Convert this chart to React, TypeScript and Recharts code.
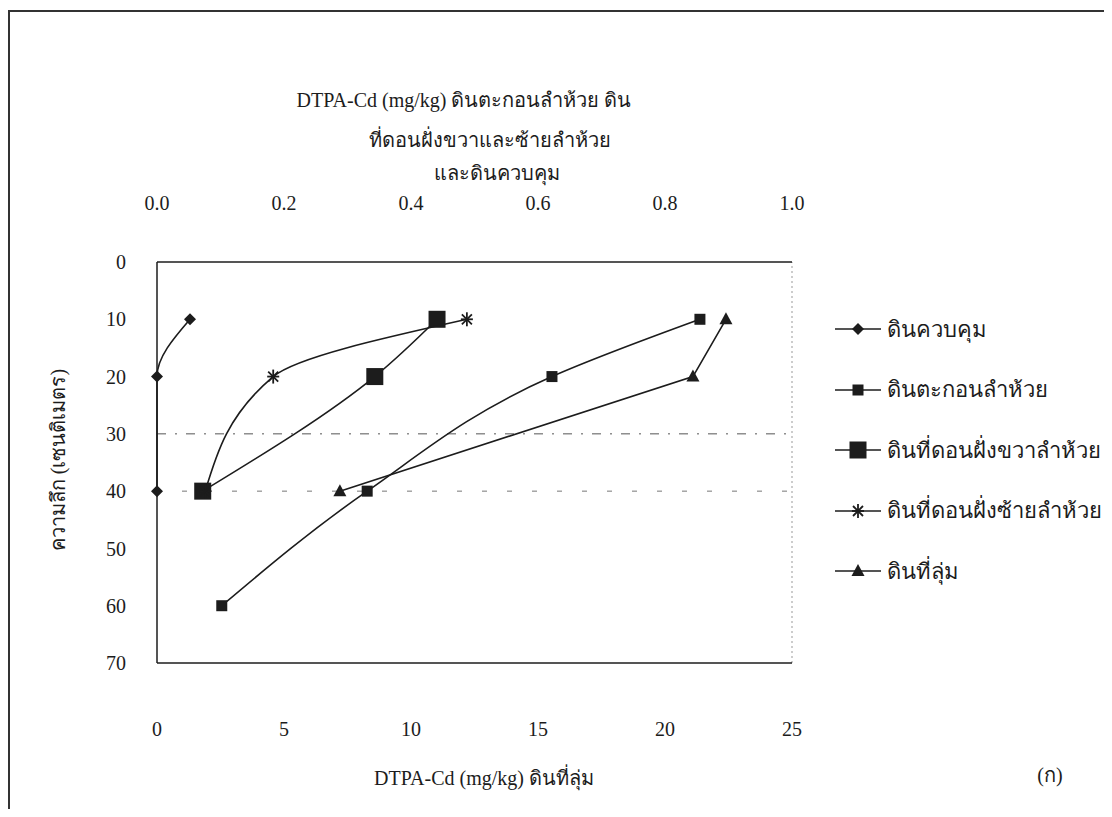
import React from "react";
import { ScatterChart, Scatter, XAxis, YAxis, ReferenceLine } from "recharts";

// depth (cm) on the y axis, reversed
const depthTicks = [0, 10, 20, 30, 40, 50, 60, 70];
const topTicks = [0, 0.2, 0.4, 0.6, 0.8, 1.0];
const bottomTicks = [0, 5, 10, 15, 20, 25];

// top axis (0–1.0 mg/kg)
const controlDepth = [10, 20, 40];
const controlCd = [0.052, 0, 0];
const sedimentDepth = [10, 20, 40, 60];
const sedimentCd = [0.855, 0.622, 0.331, 0.102];
const rightBankDepth = [10, 20, 40];
const rightBankCd = [0.441, 0.343, 0.072];
const leftBankDepth = [10, 20, 40];
const leftBankCd = [0.488, 0.183, 0.076];
// bottom axis (0–25 mg/kg)
const lowlandDepth = [10, 20, 40];
const lowlandCd = [22.4, 21.1, 7.2];

const toPoints = (depths: number[], values: number[]) =>
  depths.map((depth, i) => ({ v: values[i], depth }));

type Kind = "diamond" | "smallSquare" | "bigSquare" | "asterisk" | "triangle";

const INK = "#1c1c1c";
const FONT = "'Liberation Serif', 'Times New Roman', Norasi, Garuda, serif";

const series: {
  name: string;
  kind: Kind;
  axis: string;
  curve: "monotoneY" | "linear";
  data: { v: number; depth: number }[];
}[] = [
  { name: "ดินควบคุม", kind: "diamond", axis: "top", curve: "monotoneY", data: toPoints(controlDepth, controlCd) },
  { name: "ดินตะกอนลำห้วย", kind: "smallSquare", axis: "top", curve: "monotoneY", data: toPoints(sedimentDepth, sedimentCd) },
  { name: "ดินที่ดอนฝั่งขวาลำห้วย", kind: "bigSquare", axis: "top", curve: "monotoneY", data: toPoints(rightBankDepth, rightBankCd) },
  { name: "ดินที่ดอนฝั่งซ้ายลำห้วย", kind: "asterisk", axis: "top", curve: "monotoneY", data: toPoints(leftBankDepth, leftBankCd) },
  { name: "ดินที่ลุ่ม", kind: "triangle", axis: "bottom", curve: "linear", data: toPoints(lowlandDepth, lowlandCd) },
];

function Marker({ kind, cx, cy }: { kind: Kind; cx: number; cy: number }) {
  switch (kind) {
    case "diamond":
      return <polygon points={`${cx},${cy - 6} ${cx + 6},${cy} ${cx},${cy + 6} ${cx - 6},${cy}`} fill={INK} />;
    case "smallSquare":
      return <rect x={cx - 5.5} y={cy - 5.5} width={11} height={11} fill={INK} />;
    case "bigSquare":
      return <rect x={cx - 8.5} y={cy - 8.5} width={17} height={17} fill={INK} />;
    case "triangle":
      return <polygon points={`${cx},${cy - 7} ${cx + 6.5},${cy + 5} ${cx - 6.5},${cy + 5}`} fill={INK} />;
    case "asterisk":
      return (
        <g stroke={INK} strokeWidth={1.8}>
          <line x1={cx - 6} y1={cy} x2={cx + 6} y2={cy} />
          <line x1={cx} y1={cy - 7} x2={cx} y2={cy + 7} />
          <line x1={cx - 5} y1={cy - 5} x2={cx + 5} y2={cy + 5} />
          <line x1={cx - 5} y1={cy + 5} x2={cx + 5} y2={cy - 5} />
        </g>
      );
  }
  return null;
}

const abs = (x: number, y: number, extra: React.CSSProperties = {}): React.CSSProperties => ({
  position: "absolute",
  left: x,
  top: y,
  transform: "translate(-50%, -50%)",
  whiteSpace: "nowrap",
  fontFamily: FONT,
  color: INK,
  ...extra,
});

const tickStyle = { fill: INK, fontSize: 20, fontFamily: FONT };

export default function App() {
  const legendTop = 321;
  const legendStep = 60.5;
  return (
    <div style={{ position: "relative", width: 1104, height: 801, background: "#fff" }}>
      {/* outer frame of the scanned figure */}
      <div style={{ position: "absolute", left: 0, top: 2, width: 1100, height: 2, background: "#333" }} />
      <div style={{ position: "absolute", left: 0, top: 2, width: 2, height: 799, background: "#333" }} />
      <div style={{ position: "absolute", left: 1099, top: 2, width: 1, height: 30, background: "#999" }} />

      <ScatterChart
        width={1104}
        height={801}
        margin={{ top: 0, right: 320, bottom: 0, left: 0 }}
        style={{ position: "absolute", left: 0, top: 0 }}
      >
        <XAxis
          xAxisId="top"
          orientation="top"
          type="number"
          dataKey="v"
          domain={[0, 1]}
          ticks={topTicks}
          tickFormatter={(t: number) => t.toFixed(1)}
          height={254}
          tickLine={false}
          tickMargin={46}
          axisLine={{ stroke: INK, strokeWidth: 1.5 }}
          tick={tickStyle}
        />
        <XAxis
          xAxisId="bottom"
          orientation="bottom"
          type="number"
          dataKey="v"
          domain={[0, 25]}
          ticks={bottomTicks}
          height={146}
          tickLine={false}
          tickMargin={53}
          axisLine={{ stroke: INK, strokeWidth: 1.5 }}
          tick={tickStyle}
        />
        <YAxis
          type="number"
          dataKey="depth"
          domain={[0, 70]}
          ticks={depthTicks}
          reversed
          width={149}
          tickLine={false}
          tickMargin={25}
          axisLine={{ stroke: INK, strokeWidth: 1.5 }}
          tick={tickStyle}
        />
        <ReferenceLine xAxisId="bottom" y={30} stroke="#555" strokeDasharray="9 9 2 9" strokeWidth={1} />
        <ReferenceLine xAxisId="bottom" y={40} stroke="#777" strokeDasharray="5 20" strokeWidth={1} />
        <ReferenceLine xAxisId="bottom" x={25} stroke="#999" strokeDasharray="2 3" strokeWidth={1} />
        {series.map((s) => (
          <Scatter
            key={s.name}
            name={s.name}
            xAxisId={s.axis}
            data={s.data}
            line={{ stroke: INK, strokeWidth: 1.6 }}
            lineJointType={s.curve}
            shape={(p: any) => <Marker kind={s.kind} cx={p.cx} cy={p.cy} />}
            isAnimationActive={false}
          />
        ))}
      </ScatterChart>

      {/* titles */}
      <div style={abs(456, 92, { fontSize: 20 })}>DTPA-Cd (mg/kg) ดินตะกอนลำห้วย ดิน</div>
      <div style={abs(482, 132, { fontSize: 20 })}>ที่ดอนฝั่งขวาและซ้ายลำห้วย</div>
      <div style={abs(489, 165, { fontSize: 20 })}>และดินควบคุม</div>
      <div style={abs(476, 770, { fontSize: 20 })}>DTPA-Cd (mg/kg) ดินที่ลุ่ม</div>
      <div style={abs(1042, 767, { fontSize: 20 })}>(ก)</div>
      <div style={abs(50, 452, { fontSize: 20, transform: "translate(-50%, -50%) rotate(-90deg)" })}>
        ความลึก (เซนติเมตร)
      </div>

      {/* legend */}
      {series.map((s, i) => {
        const y = legendTop + i * legendStep;
        return (
          <div key={s.name} style={{ position: "absolute", left: 827, top: y - 15, height: 30, display: "flex", alignItems: "center" }}>
            <svg width={46} height={30}>
              <line x1={0} y1={15} x2={46} y2={15} stroke={INK} strokeWidth={1.6} />
              <Marker kind={s.kind} cx={23} cy={15} />
            </svg>
            <span style={{ marginLeft: 6, fontFamily: FONT, fontSize: 22, color: INK, whiteSpace: "nowrap" }}>{s.name}</span>
          </div>
        );
      })}
    </div>
  );
}
